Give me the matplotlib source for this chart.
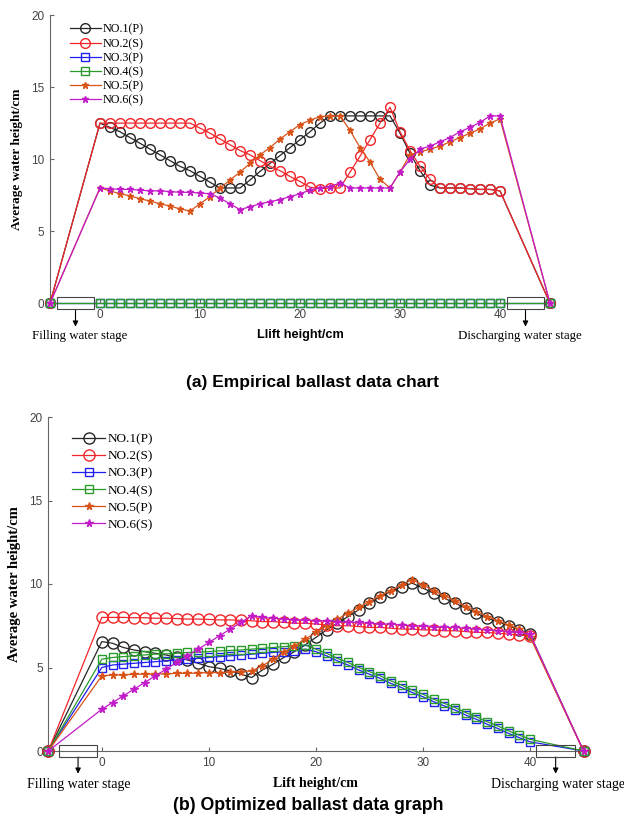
import numpy as np
import matplotlib.pyplot as plt
from matplotlib.patches import Rectangle

# lift height: -5 = filling stage, 0..40 = lift, 45 = discharging stage
lift = [-5] + list(range(0, 41)) + [45]

names = ["NO.1(P)", "NO.2(S)", "NO.3(P)", "NO.4(S)", "NO.5(P)", "NO.6(S)"]
colors = ["#262626", "#f2262a", "#1f1ff0", "#2a9a2a", "#d95319", "#c21bc8"]
markers = ["o", "o", "s", "s", "*", "*"]

# (a) empirical ballast, x = 0..40
emp_no1 = [12.5, 12.2, 11.9, 11.5, 11.1, 10.7, 10.3, 9.9, 9.5, 9.2, 8.8, 8.4, 8.0, 8.0, 8.0,
           8.55, 9.15, 9.7, 10.25, 10.8, 11.35, 11.9, 12.5, 13.0, 13.0, 13.0, 13.0, 13.0, 13.0, 13.0,
           11.8, 10.4, 9.2, 8.2, 8.0, 8.0, 8.0, 7.95, 7.9, 7.9, 7.8]
emp_no2 = [12.5, 12.5, 12.5, 12.5, 12.5, 12.5, 12.5, 12.5, 12.5, 12.5, 12.15, 11.8, 11.4, 11.0, 10.6,
           10.3, 9.9, 9.5, 9.2, 8.8, 8.45, 8.05, 7.95, 8.0, 8.0, 9.1, 10.2, 11.35, 12.5, 13.6,
           11.9, 10.6, 9.5, 8.6, 8.0, 8.0, 8.0, 7.95, 7.9, 7.9, 7.8]
emp_no3 = [0.0] * 41
emp_no4 = [0.0] * 41
emp_no5 = [8.0, 7.8, 7.6, 7.45, 7.25, 7.1, 6.9, 6.75, 6.55, 6.4, 6.9, 7.4, 8.0, 8.55, 9.1,
           9.7, 10.3, 10.8, 11.4, 11.9, 12.4, 12.7, 12.95, 13.0, 13.0, 12.0, 10.8, 9.8, 8.6, 8.0,
           9.1, 10.3, 10.5, 10.7, 10.9, 11.2, 11.5, 11.8, 12.1, 12.5, 12.8]
emp_no6 = [8.0, 7.95, 7.9, 7.9, 7.85, 7.8, 7.8, 7.75, 7.7, 7.7, 7.65, 7.6, 7.3, 6.9, 6.5,
           6.7, 6.9, 7.05, 7.2, 7.4, 7.6, 7.85, 8.0, 8.1, 8.35, 8.0, 8.0, 8.0, 8.0, 8.0,
           9.1, 10.0, 10.7, 10.9, 11.2, 11.5, 11.9, 12.2, 12.55, 13.0, 13.0]

# (b) optimized ballast, x = 0..40
opt_no1 = [6.55, 6.45, 6.2, 6.05, 5.95, 5.85, 5.75, 5.6, 5.45, 5.25, 5.05, 4.95, 4.8, 4.6, 4.4,
           4.85, 5.2, 5.6, 5.95, 6.35, 6.8, 7.25, 7.65, 8.05, 8.45, 8.85, 9.25, 9.55, 9.85, 10.05,
           9.75, 9.45, 9.15, 8.85, 8.55, 8.25, 7.95, 7.75, 7.5, 7.25, 7.0]
opt_no2 = [8.0, 8.0, 8.0, 7.98, 7.98, 7.95, 7.95, 7.93, 7.9, 7.9, 7.88, 7.85, 7.85, 7.82, 7.8,
           7.75, 7.75, 7.7, 7.65, 7.65, 7.6, 7.55, 7.5, 7.5, 7.45, 7.4, 7.4, 7.35, 7.3, 7.3,
           7.25, 7.25, 7.2, 7.2, 7.15, 7.1, 7.1, 7.05, 7.0, 6.95, 6.9]
opt_no3 = [5.0, 5.15, 5.2, 5.25, 5.3, 5.35, 5.4, 5.45, 5.5, 5.55, 5.6, 5.65, 5.7, 5.75, 5.8,
           5.85, 5.9, 5.95, 6.0, 6.1, 5.95, 5.7, 5.4, 5.15, 4.85, 4.6, 4.35, 4.05, 3.8, 3.5,
           3.25, 2.95, 2.7, 2.45, 2.15, 1.9, 1.6, 1.35, 1.05, 0.8, 0.55]
opt_no4 = [5.5, 5.6, 5.65, 5.7, 5.75, 5.8, 5.82, 5.85, 5.9, 5.92, 5.95, 6.0, 6.02, 6.05, 6.1,
           6.15, 6.2, 6.25, 6.3, 6.35, 6.1, 5.85, 5.55, 5.3, 5.0, 4.75, 4.5, 4.2, 3.95, 3.65,
           3.4, 3.1, 2.85, 2.6, 2.3, 2.05, 1.75, 1.5, 1.2, 0.95, 0.7]
opt_no5 = [4.5, 4.55, 4.55, 4.6, 4.6, 4.6, 4.62, 4.65, 4.65, 4.67, 4.7, 4.7, 4.72, 4.75, 4.8,
           5.1, 5.5, 5.9, 6.3, 6.7, 7.1, 7.5, 7.9, 8.25, 8.6, 8.95, 9.3, 9.6, 9.95, 10.25,
           9.95, 9.6, 9.3, 9.0, 8.65, 8.35, 8.05, 7.8, 7.55, 7.3, 6.85]
opt_no6 = [2.5, 2.9, 3.3, 3.7, 4.1, 4.5, 4.9, 5.3, 5.7, 6.1, 6.5, 6.9, 7.3, 7.7, 8.1,
           8.0, 7.95, 7.9, 7.85, 7.85, 7.8, 7.8, 7.75, 7.7, 7.7, 7.65, 7.6, 7.6, 7.55, 7.5,
           7.5, 7.45, 7.4, 7.4, 7.35, 7.3, 7.25, 7.2, 7.15, 7.1, 7.0]

emp = [emp_no1, emp_no2, emp_no3, emp_no4, emp_no5, emp_no6]
opt = [opt_no1, opt_no2, opt_no3, opt_no4, opt_no5, opt_no6]

SERIF = "Liberation Serif"
SANS = "Liberation Sans"
plt.rcParams["font.family"] = SANS


def draw(ax, data, msize, ssize, fs_leg, hl, lsp, anchor):
    for vals, name, c, m in zip(data, names, colors, markers):
        y = [0.0] + vals + [0.0]
        if m == "*":
            ax.plot(lift, y, color=c, lw=0.9, marker=m, ms=ssize, mfc=c, mec=c,
                    label=name, clip_on=False, zorder=3)
        else:
            ax.plot(lift, y, color=c, lw=0.9, marker=m, ms=msize if m == "o" else msize * 0.75,
                    mfc="none", mec=c, mew=1.0, label=name, clip_on=False, zorder=3)
    ax.set_xlim(-5, 45)
    ax.set_ylim(0, 20)
    ax.set_xticks([0, 10, 20, 30, 40])
    ax.set_yticks([0, 5, 10, 15, 20])
    for s in ["top", "right"]:
        ax.spines[s].set_visible(False)
    for s in ["left", "bottom"]:
        ax.spines[s].set_color("#666666")
        ax.spines[s].set_linewidth(0.8)
    ax.tick_params(direction="in", length=3, width=0.8, color="#666666",
                   labelcolor="#444444", labelsize=8.5, pad=4)
    leg = ax.legend(loc="upper left", bbox_to_anchor=anchor, frameon=False,
                    handlelength=hl, handletextpad=0.15, labelspacing=lsp, borderaxespad=0.2,
                    prop={"family": SERIF, "size": fs_leg})
    return leg


def stage_boxes(ax, left_box, right_box, hh, arrow_len):
    for (x0, x1) in [left_box, right_box]:
        ax.add_patch(Rectangle((x0, -hh), x1 - x0, 2 * hh, fill=False, ec="#444444",
                               lw=0.8, clip_on=False, zorder=4))
        xm = (x0 + x1) / 2
        ax.annotate("", xy=(xm, -hh - arrow_len), xytext=(xm, -hh),
                    arrowprops=dict(arrowstyle="-|>", color="black", lw=0.8,
                                    mutation_scale=8, shrinkA=0, shrinkB=0),
                    annotation_clip=False)


fig = plt.figure(figsize=(6.24, 8.19), dpi=100)

# (a)
ax1 = fig.add_axes([50 / 624, 1 - 303.3 / 819, 500 / 624, 288.3 / 819])
draw(ax1, emp, 7.0, 5.0, 8.7, 2.6, 0.18, (0.025, 0.995))
stage_boxes(ax1, (-4.3, -0.6), (40.7, 44.4), 0.42, 1.2)
ax1.set_ylabel("Average water height/cm", family=SERIF, fontweight="bold", fontsize=9.5,
               labelpad=6)
ax1.text(20, -1.75, "Llift height/cm", ha="center", va="top", fontweight="bold",
         fontsize=9.2, clip_on=False)
ax1.text(-6.8, -1.85, "Filling water stage", ha="left", va="top", family=SERIF,
         fontsize=9.3, clip_on=False)
ax1.text(35.8, -1.85, "Discharging water stage", ha="left", va="top", family=SERIF,
         fontsize=9.3, clip_on=False)
fig.text(0.5, 1 - 382 / 819, "(a) Empirical ballast data chart", ha="center", va="center",
         fontweight="bold", fontsize=12.5)

# (b)
ax2 = fig.add_axes([48.3 / 624, 1 - 751 / 819, 535.2 / 624, 334 / 819])
draw(ax2, opt, 8.0, 5.5, 9.5, 2.5, 0.37, (0.03, 0.975))
stage_boxes(ax2, (-4.0, -0.44), (40.6, 44.2), 0.36, 1.0)
ax2.set_ylabel("Average water height/cm", family=SERIF, fontweight="bold", fontsize=10.5,
               labelpad=6)
ax2.text(20, -1.55, "Lift height/cm", ha="center", va="top", family=SERIF,
         fontweight="bold", fontsize=10, clip_on=False)
ax2.text(-7.0, -1.6, "Filling water stage", ha="left", va="top", family=SERIF,
         fontsize=10, clip_on=False)
ax2.text(36.4, -1.6, "Discharging water stage", ha="left", va="top", family=SERIF,
         fontsize=10, clip_on=False)
fig.text(0.494, 1 - 805 / 819, "(b) Optimized ballast data graph", ha="center", va="center",
         fontweight="bold", fontsize=12.8)

fig.savefig("out.png", dpi=100)
